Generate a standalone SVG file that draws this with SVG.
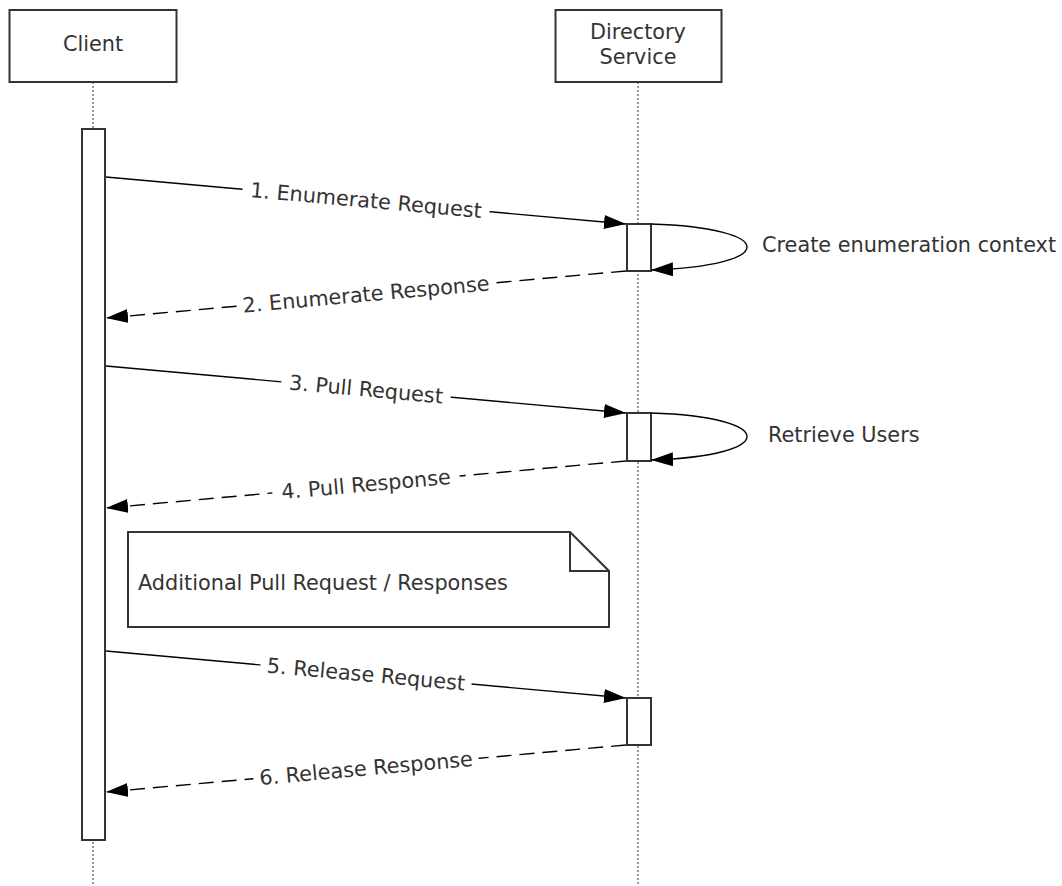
<svg xmlns="http://www.w3.org/2000/svg" width="1062" height="886" viewBox="0 0 1062 886">
<defs>
<marker id="arr" markerUnits="userSpaceOnUse" markerWidth="24" markerHeight="16" refX="22" refY="7" orient="auto">
<path d="M0,0 L22,7 L0,14 z" fill="#000"/>
</marker>
<style>
.box{fill:#fff;stroke:#333;stroke-width:2}
.life{stroke:#555;stroke-width:1.2;stroke-dasharray:2,2;fill:none}
.t{font-family:"DejaVu Sans",Verdana,sans-serif;font-size:20.8px;fill:#333;dominant-baseline:central}
.c{text-anchor:middle}
.msg{stroke:#000;stroke-width:1.4;fill:none}
.dash{stroke:#000;stroke-width:1.4;fill:none;stroke-dasharray:15,8}
.bg{fill:#fff}
</style>
</defs>
<rect width="1062" height="886" fill="#fff"/>
<g id="lifelines">
<line class="life" x1="93" y1="82" x2="93" y2="886"/>
<line class="life" x1="638" y1="82" x2="638" y2="886"/>
</g>
<g id="client">
<rect class="box" x="9.5" y="10" width="167" height="72"/>
<text class="t c" x="93" y="44">Client</text>
<rect class="box" x="82" y="129" width="23" height="711"/>
</g>
<g id="directory">
<rect class="box" x="555.5" y="10" width="166" height="72"/>
<text class="t c" x="638" y="32">Directory</text>
<text class="t c" x="638" y="57">Service</text>
<rect class="box" x="627" y="224" width="24" height="47"/>
<rect class="box" x="627" y="413" width="24" height="48"/>
<rect class="box" x="627" y="698" width="24" height="47"/>
</g>
<g id="note">
<path class="box" d="M128,532 H570 L609,571 V627 H128 Z"/>
<path d="M570,532 V571 H609" fill="none" stroke="#333" stroke-width="2"/>
<text class="t" x="138" y="583">Additional Pull Request / Responses</text>
</g>
<g id="connectors">
<line class="msg" x1="106" y1="177" x2="626" y2="224" marker-end="url(#arr)"/>
<path class="msg" d="M651,224 C779,228 779,266 651,270" marker-end="url(#arr)"/>
<line class="dash" x1="626" y1="271" x2="106" y2="318" marker-end="url(#arr)"/>
<line class="msg" x1="106" y1="366" x2="626" y2="413" marker-end="url(#arr)"/>
<path class="msg" d="M651,413 C779,417 779,456 651,460" marker-end="url(#arr)"/>
<line class="dash" x1="626" y1="461" x2="106" y2="508" marker-end="url(#arr)"/>
<line class="msg" x1="106" y1="651" x2="626" y2="698" marker-end="url(#arr)"/>
<line class="dash" x1="626" y1="745" x2="106" y2="792" marker-end="url(#arr)"/>
<g transform="translate(366,200.5) rotate(5.17)"><rect class="bg" x="-124" y="-11" width="248" height="22"/><text class="t c" x="0" y="0">1. Enumerate Request</text></g>
<g transform="translate(366,294.5) rotate(-5.17)"><rect class="bg" x="-129" y="-11" width="258" height="22"/><text class="t c" x="0" y="0">2. Enumerate Response</text></g>
<g transform="translate(366,389.5) rotate(5.17)"><rect class="bg" x="-85" y="-11" width="170" height="22"/><text class="t c" x="0" y="0">3. Pull Request</text></g>
<g transform="translate(366,484.5) rotate(-5.17)"><rect class="bg" x="-94" y="-11" width="188" height="22"/><text class="t c" x="0" y="0">4. Pull Response</text></g>
<g transform="translate(366,674.5) rotate(5.17)"><rect class="bg" x="-106" y="-11" width="212" height="22"/><text class="t c" x="0" y="0">5. Release Request</text></g>
<g transform="translate(366,768.5) rotate(-5.17)"><rect class="bg" x="-113" y="-11" width="226" height="22"/><text class="t c" x="0" y="0">6. Release Response</text></g>
<text class="t" x="762" y="245">Create enumeration context</text>
<text class="t" x="768" y="435">Retrieve Users</text>
</g>
</svg>
